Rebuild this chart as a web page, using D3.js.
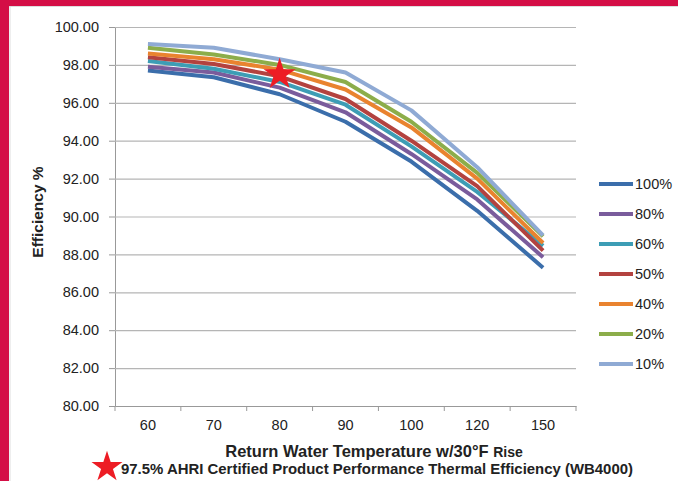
<!DOCTYPE html>
<html>
<head>
<meta charset="utf-8">
<script src="https://cdn.jsdelivr.net/npm/d3@7"></script>
<style>
  body { margin: 0; background: #fff; }
  svg { display: block; font-family: "Liberation Sans", Arial, sans-serif; }
</style>
</head>
<body>
<svg width="678" height="481"></svg>
<script>
// Data
var temps = ["60", "70", "80", "90", "100", "120", "150"];
var yTicks = [80, 82, 84, 86, 88, 90, 92, 94, 96, 98, 100];
var seriesNames = ["100%", "80%", "60%", "50%", "40%", "20%", "10%"];
var load100 = [97.7, 97.35, 96.45, 95.0, 92.9, 90.3, 87.3];
var load80  = [97.9, 97.6, 96.8, 95.5, 93.3, 90.9, 87.85];
var load60  = [98.2, 97.8, 97.1, 95.9, 93.7, 91.3, 88.45];
var load50  = [98.4, 98.05, 97.4, 96.2, 94.0, 91.6, 88.2];
var load40  = [98.6, 98.3, 97.75, 96.7, 94.7, 92.0, 88.6];
var load20  = [98.9, 98.55, 98.0, 97.1, 95.0, 92.3, 88.95];
var load10  = [99.1, 98.9, 98.3, 97.6, 95.6, 92.6, 89.0];
var seriesValues = [load100, load80, load60, load50, load40, load20, load10];
var colors = ["#3b6eab", "#7a5c9c", "#3d9db5", "#b3423f", "#e9832f", "#8cad4a", "#8faad4"];
var certTemp = "80", certValue = 97.5;

const svg = d3.select("svg");

// crimson frame on top and left
svg.append("rect").attr("x", 0).attr("y", 0).attr("width", 678).attr("height", 6).attr("fill", "#d40e46");
svg.append("rect").attr("x", 0).attr("y", 0).attr("width", 9).attr("height", 481).attr("fill", "#d40e46");
svg.append("line").attr("x1", 10).attr("x2", 10).attr("y1", 6).attr("y2", 481).attr("stroke", "#ddd");
svg.append("line").attr("x1", 9).attr("x2", 678).attr("y1", 6.5).attr("y2", 6.5).attr("stroke", "#ddd");

const plotLeft = 115, plotRight = 576, plotTop = 27, plotBottom = 406;

const x = d3.scaleBand().domain(temps).range([plotLeft, plotRight]).padding(0);
const y = d3.scaleLinear().domain([80, 100]).range([plotBottom, plotTop]);

// horizontal grid + y ticks
const yAxis = d3.axisLeft(y).tickValues(yTicks).tickSize(6).tickFormat(d3.format(".2f"));
const gy = svg.append("g").attr("transform", `translate(${plotLeft},0)`).call(yAxis);
gy.select(".domain").attr("stroke", "#999");
gy.selectAll(".tick line").attr("stroke", "#999");
gy.selectAll(".tick text").attr("x", -16).attr("font-size", 14.5).attr("fill", "#222").attr("font-family", "Liberation Sans, Arial, sans-serif");

svg.append("g").selectAll("line")
  .data(yTicks.filter(d => d > 80))
  .enter().append("line")
  .attr("x1", plotLeft).attr("x2", plotRight)
  .attr("y1", d => y(d) + 0.5).attr("y2", d => y(d) + 0.5)
  .attr("stroke", "#b5b5b5").attr("stroke-width", 1.2);

// x axis
const xAxis = d3.axisBottom(x).tickSize(0).tickPadding(14);
const gx = svg.append("g").attr("transform", `translate(0,${plotBottom})`).call(xAxis);
gx.select(".domain").attr("stroke", "#999");
gx.selectAll(".tick text").attr("font-size", 14.5).attr("fill", "#222").attr("font-family", "Liberation Sans, Arial, sans-serif");
gx.selectAll(".bound")
  .data(d3.range(temps.length + 1))
  .enter().append("line")
  .attr("x1", i => plotLeft + i * x.bandwidth()).attr("x2", i => plotLeft + i * x.bandwidth())
  .attr("y1", 0).attr("y2", 5)
  .attr("stroke", "#999");

// lines
const line = d3.line()
  .x((d, i) => x(temps[i]) + x.bandwidth() / 2)
  .y(d => y(d));

svg.append("g").selectAll("path")
  .data(seriesValues)
  .enter().append("path")
  .attr("d", d => line(d))
  .attr("fill", "none")
  .attr("stroke", (d, i) => colors[i])
  .attr("stroke-width", 4)
  .attr("stroke-linejoin", "round");

// certified point star
const star = d3.symbol().type(d3.symbolStar);
svg.append("path")
  .attr("d", star.size(320)())
  .attr("transform", `translate(${x(certTemp) + x.bandwidth() / 2},${y(certValue)})`)
  .attr("fill", "#ed1c24");

// legend
const legend = svg.append("g").selectAll("g")
  .data(seriesNames)
  .enter().append("g")
  .attr("transform", (d, i) => `translate(599,${184 + i * 30})`);
legend.append("line").attr("x1", 0).attr("x2", 34).attr("y1", 0).attr("y2", 0)
  .attr("stroke", (d, i) => colors[i]).attr("stroke-width", 4);
legend.append("text").attr("x", 36).attr("y", 5).text(d => d)
  .attr("font-size", 14.5).attr("fill", "#222");

// axis titles
svg.append("text")
  .attr("transform", "translate(43,212) rotate(-90)")
  .attr("text-anchor", "middle")
  .attr("font-weight", "bold").attr("font-size", 15.5).attr("fill", "#222")
  .text("Efficiency %");

const xt = svg.append("text")
  .attr("x", 374).attr("y", 457)
  .attr("text-anchor", "middle")
  .attr("font-weight", "bold").attr("font-size", 16.5).attr("fill", "#222");
xt.append("tspan").text("Return Water Temperature w/30°F ");
xt.append("tspan").attr("font-size", 14).text("Rise");

svg.append("path")
  .attr("d", star.size(300)())
  .attr("transform", "translate(107,467)")
  .attr("fill", "#ed1c24");
svg.append("text")
  .attr("x", 121).attr("y", 473.5)
  .attr("font-weight", "bold").attr("font-size", 14.5).attr("fill", "#222")
  .attr("textLength", 512).attr("lengthAdjust", "spacingAndGlyphs")
  .text("97.5% AHRI Certified Product Performance Thermal Efficiency (WB4000)");
</script>
</body>
</html>
